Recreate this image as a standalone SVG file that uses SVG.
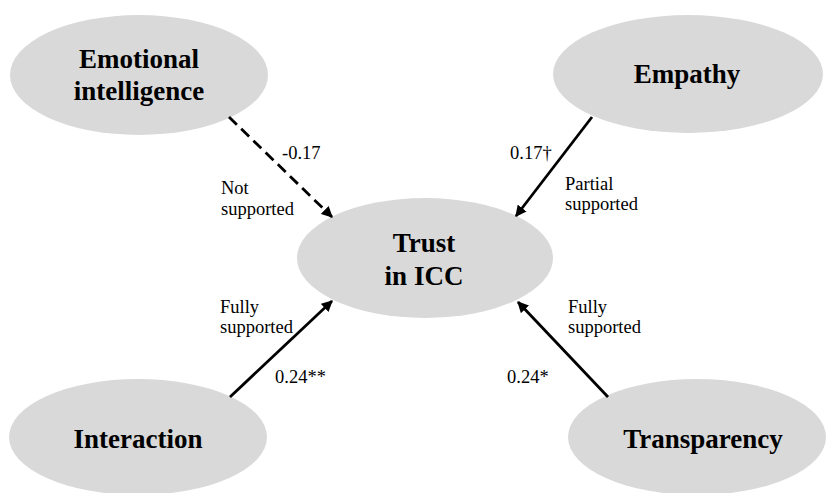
<svg xmlns="http://www.w3.org/2000/svg" width="826" height="493" viewBox="0 0 826 493">
<style>
.node{fill:#d9d9d9;}
.nt{font-family:'Liberation Serif','Times New Roman','DejaVu Serif',serif;font-weight:bold;font-size:27px;fill:#000;text-anchor:middle;}
.lb{font-family:'Liberation Serif','Times New Roman','DejaVu Serif',serif;font-size:18.5px;fill:#000;}
.ln{stroke:#000;stroke-width:2.8;fill:none;}
.dash{stroke-dasharray:11 6;}
</style>
<defs>
<marker id="ah" viewBox="0 0 10 10" refX="9" refY="5" markerWidth="4" markerHeight="4" orient="auto" markerUnits="strokeWidth">
<path d="M0,0 L10,5 L0,10 z" fill="#000"/>
</marker>
</defs>
<rect width="826" height="493" fill="#fff"/>
<g id="emotional-intelligence">
<ellipse class="node" cx="139" cy="75" rx="129" ry="60"/>
<text class="nt" x="139" y="68" font-family="Liberation Serif">Emotional</text>
<text class="nt" x="139" y="100" font-family="Liberation Serif">intelligence</text>
</g>
<g id="empathy">
<ellipse class="node" cx="688" cy="74" rx="135" ry="59"/>
<text class="nt" x="687" y="83">Empathy</text>
</g>
<g id="trust">
<ellipse class="node" cx="425" cy="258" rx="128" ry="60"/>
<text class="nt" x="424" y="252">Trust</text>
<text class="nt" x="424" y="285">in ICC</text>
</g>
<g id="interaction">
<ellipse class="node" cx="138" cy="437" rx="129" ry="58"/>
<text class="nt" x="138" y="448">Interaction</text>
</g>
<g id="transparency">
<ellipse class="node" cx="697" cy="437" rx="129" ry="58"/>
<text class="nt" x="703" y="448">Transparency</text>
</g>
<g id="connectors">
<line class="ln dash" x1="229" y1="117" x2="332" y2="217" marker-end="url(#ah)"/>
<line class="ln" x1="592" y1="117" x2="516" y2="216" marker-end="url(#ah)"/>
<line class="ln" x1="230" y1="397" x2="332" y2="301" marker-end="url(#ah)"/>
<line class="ln" x1="608" y1="397" x2="518" y2="302" marker-end="url(#ah)"/>
</g>
<g id="labels">
<text class="lb" x="282" y="159">-0.17</text>
<text class="lb" x="221" y="194">Not</text>
<text class="lb" x="221" y="215">supported</text>
<text class="lb" x="510" y="159">0.17†</text>
<text class="lb" x="565" y="190">Partial</text>
<text class="lb" x="565" y="210">supported</text>
<text class="lb" x="220" y="313">Fully</text>
<text class="lb" x="220" y="333">supported</text>
<text class="lb" x="568" y="313">Fully</text>
<text class="lb" x="568" y="333">supported</text>
<text class="lb" x="275" y="383">0.24**</text>
<text class="lb" x="507" y="383">0.24*</text>
</g>
</svg>
